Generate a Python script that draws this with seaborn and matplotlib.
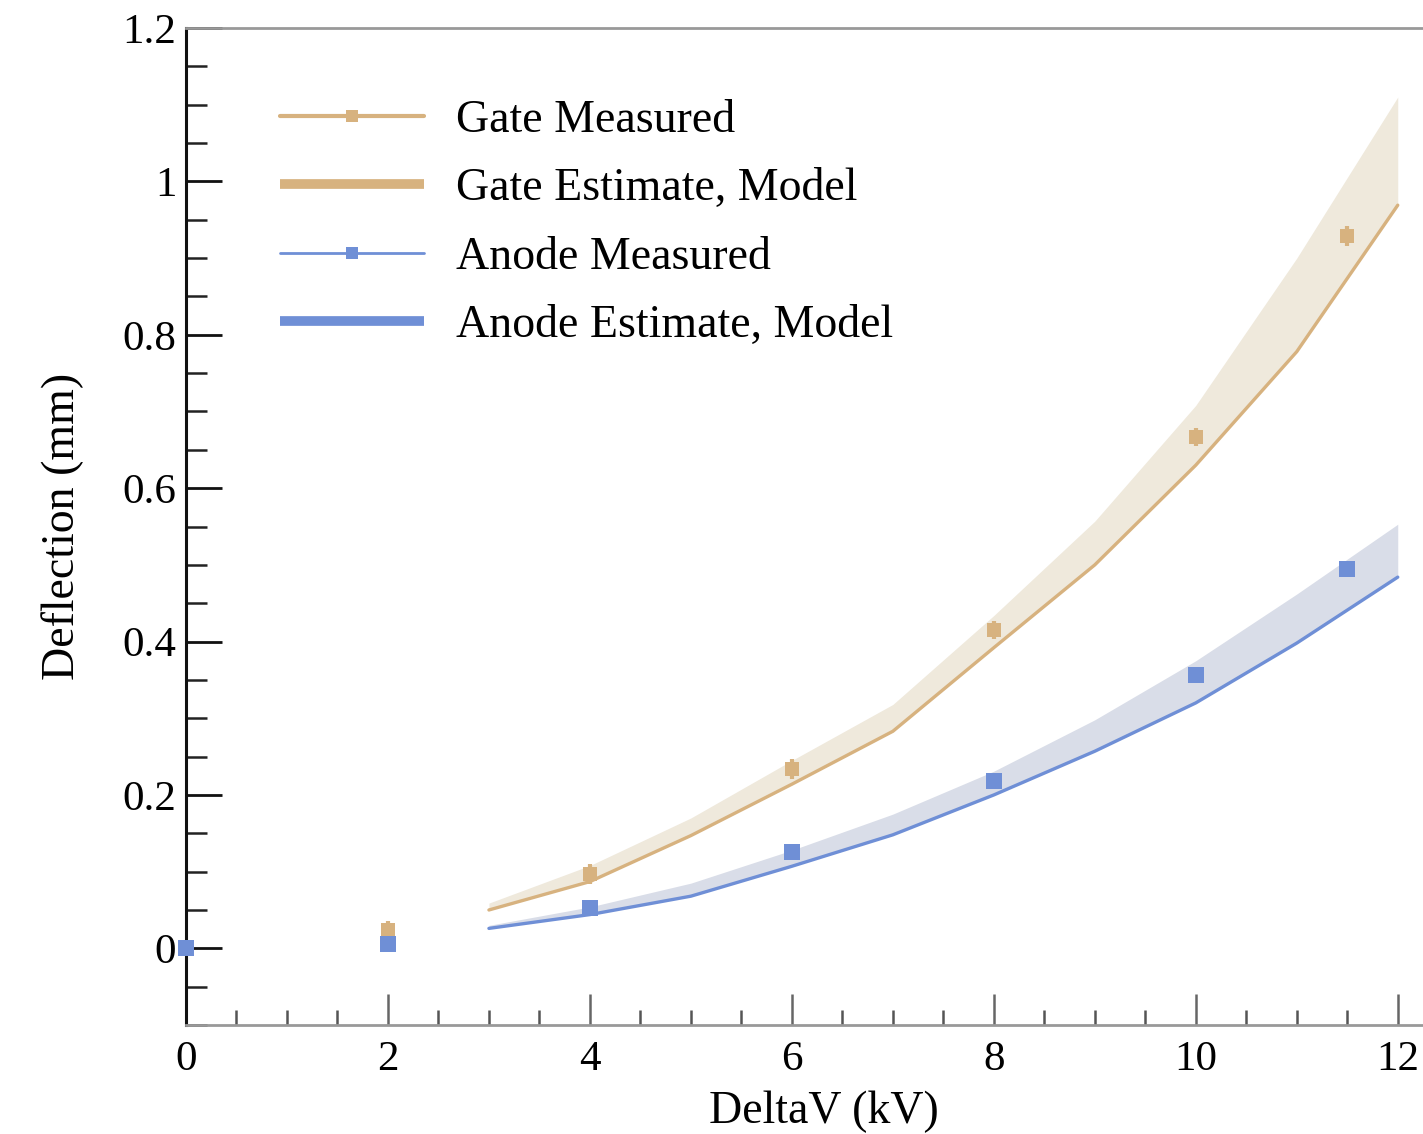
import numpy as np
import pandas as pd
import seaborn as sns
import matplotlib.pyplot as plt
from matplotlib.lines import Line2D
from matplotlib.ticker import MultipleLocator

# measured points
meas_x = [0, 2, 4, 6, 8, 10, 11.5]
gate_meas = [0.0, 0.024, 0.097, 0.234, 0.415, 0.667, 0.929]
gate_err = [0.008, 0.012, 0.013, 0.013, 0.012, 0.012, 0.013]
anode_meas = [0.0, 0.005, 0.052, 0.125, 0.218, 0.356, 0.495]

# model estimate (line) and upper edge of the model band
model_x = [3, 4, 5, 6, 7, 8, 9, 10, 11, 12]
gate_model = [0.050, 0.087, 0.147, 0.214, 0.283, 0.392, 0.500, 0.630, 0.778, 0.969]
gate_upper = [0.059, 0.108, 0.170, 0.245, 0.318, 0.434, 0.557, 0.708, 0.900, 1.110]
anode_model = [0.026, 0.044, 0.068, 0.107, 0.148, 0.200, 0.257, 0.320, 0.398, 0.484]
anode_upper = [0.030, 0.054, 0.085, 0.128, 0.175, 0.231, 0.298, 0.375, 0.462, 0.553]

gate_c = '#d7b27f'
anode_c = '#6f8fd6'

sns.set_style('white')
plt.rcParams['font.family'] = ['Liberation Serif', 'DejaVu Serif']
plt.rcParams['text.color'] = 'black'
plt.rcParams['axes.labelcolor'] = 'black'
plt.rcParams['xtick.labelcolor'] = 'black'
plt.rcParams['ytick.labelcolor'] = 'black'

fig = plt.figure(figsize=(14.23, 11.34), dpi=100)
ax = fig.add_axes([0.1307, 0.0961, 0.8693, 0.8792])

# bands
ax.fill_between(model_x, gate_model, gate_upper, color='#efe9dc', lw=0, zorder=1)
ax.fill_between(model_x, anode_model, anode_upper, color='#d9dde8', lw=0, zorder=1)

# model lines
model_df = pd.DataFrame({'x': model_x * 2,
                         'y': gate_model + anode_model,
                         'series': ['Gate'] * len(model_x) + ['Anode'] * len(model_x)})
sns.lineplot(data=model_df, x='x', y='y', hue='series', palette={'Gate': gate_c, 'Anode': anode_c},
             lw=2.4, legend=False, ax=ax, zorder=2)

# measured points
ax.errorbar(meas_x, gate_meas, yerr=gate_err, fmt='s', color=gate_c, ms=10, mew=0,
            elinewidth=3, capsize=3, capthick=2, zorder=3, clip_on=False)
meas_df = pd.DataFrame({'x': meas_x, 'y': anode_meas})
sns.scatterplot(data=meas_df, x='x', y='y', marker='s', s=140, color=anode_c, lw=0,
                ax=ax, zorder=4, clip_on=False)

ax.set_xlim(0, 12.25)
ax.set_ylim(-0.1, 1.2)
ax.xaxis.set_major_locator(MultipleLocator(2))
ax.xaxis.set_minor_locator(MultipleLocator(0.5))
ax.yaxis.set_major_locator(MultipleLocator(0.2))
ax.yaxis.set_minor_locator(MultipleLocator(0.05))
ax.set_yticks([0, 0.2, 0.4, 0.6, 0.8, 1.0, 1.2])
ax.set_yticklabels(['0', '0.2', '0.4', '0.6', '0.8', '1', '1.2'])
ax.set_xticks([0, 2, 4, 6, 8, 10, 12])
ax.set_xticklabels(['0', '2', '4', '6', '8', '10', '12'])

ax.tick_params(axis='y', which='major', direction='in', length=26, width=2, color='#111111',
               labelsize=31, pad=7, left=True)
ax.tick_params(axis='y', which='minor', direction='in', length=15, width=1.8, color='#222222', left=True)
ax.tick_params(axis='x', which='major', direction='in', length=22, width=1.8, color='#666666',
               labelsize=31, pad=11, bottom=True)
ax.tick_params(axis='x', which='minor', direction='in', length=11, width=1.8, color='#555555', bottom=True)

ax.spines['left'].set_color('#111111')
ax.spines['left'].set_linewidth(2.2)
ax.spines['bottom'].set_color('#999999')
ax.spines['bottom'].set_linewidth(2)
ax.spines['top'].set_color('#999999')
ax.spines['top'].set_linewidth(2)
ax.spines['right'].set_visible(False)

ax.set_xlabel('DeltaV (kV)', fontsize=33)
ax.set_ylabel('Deflection (mm)', fontsize=33)
ax.xaxis.set_label_coords(0.516, -0.066)
ax.yaxis.set_label_coords(-0.082, 0.5)

handles = [
    Line2D([], [], color=gate_c, lw=3, marker='s', ms=9, mew=0),
    Line2D([], [], color=gate_c, lw=7, solid_capstyle='butt'),
    Line2D([], [], color=anode_c, lw=2, marker='s', ms=9, mew=0),
    Line2D([], [], color=anode_c, lw=7, solid_capstyle='butt'),
]
labels = ['Gate Measured', 'Gate Estimate, Model', 'Anode Measured', 'Anode Estimate, Model']
ax.legend(handles, labels, loc='upper left', bbox_to_anchor=(0.076, 0.928), frameon=False,
          fontsize=33, handlelength=3.15, handletextpad=0.7, labelspacing=0.56, borderpad=0,
          borderaxespad=0)

fig.savefig('out.png', dpi=100)
